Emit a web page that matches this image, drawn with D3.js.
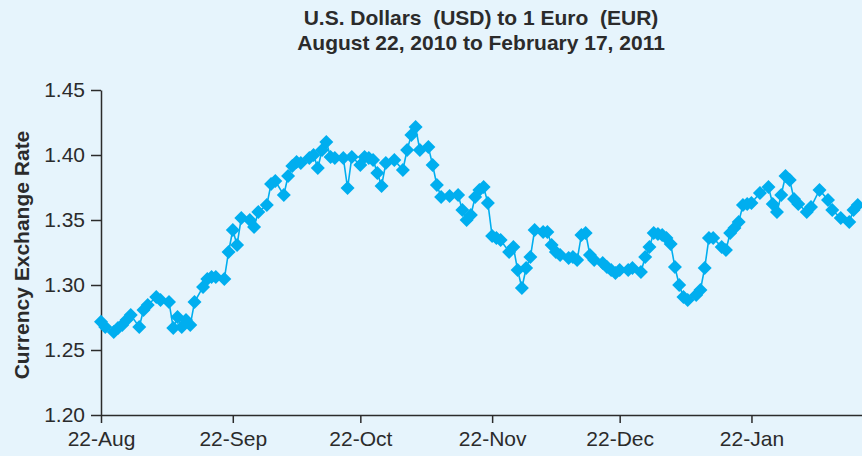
<!DOCTYPE html>
<html>
<head>
<meta charset="utf-8">
<script src="https://cdn.jsdelivr.net/npm/d3@7"></script>
<style>
  body { margin: 0; background: #e6f4fc; }
  svg { display: block; }
</style>
</head>
<body>
<script>
// USD per 1 EUR
var dates = [
  "2010-08-22","2010-08-23","2010-08-25","2010-08-26","2010-08-27","2010-08-28","2010-08-29","2010-08-31",
  "2010-09-01","2010-09-02","2010-09-04","2010-09-05","2010-09-07","2010-09-08","2010-09-09","2010-09-10",
  "2010-09-11","2010-09-12","2010-09-13","2010-09-15","2010-09-16","2010-09-17","2010-09-18","2010-09-20",
  "2010-09-21","2010-09-22","2010-09-23","2010-09-24","2010-09-26","2010-09-27","2010-09-28","2010-09-30",
  "2010-10-01","2010-10-02","2010-10-04","2010-10-05","2010-10-06","2010-10-07","2010-10-08","2010-10-10",
  "2010-10-11","2010-10-12","2010-10-13","2010-10-14","2010-10-15","2010-10-16","2010-10-18","2010-10-19",
  "2010-10-20","2010-10-22","2010-10-23","2010-10-24","2010-10-25","2010-10-26","2010-10-27","2010-10-28",
  "2010-10-30","2010-11-01","2010-11-02","2010-11-03","2010-11-04","2010-11-05","2010-11-07","2010-11-08",
  "2010-11-09","2010-11-10","2010-11-12","2010-11-14","2010-11-15","2010-11-16","2010-11-17","2010-11-18",
  "2010-11-19","2010-11-20","2010-11-21","2010-11-22","2010-11-23","2010-11-24","2010-11-26","2010-11-27",
  "2010-11-28","2010-11-29","2010-11-30","2010-12-01","2010-12-02","2010-12-04","2010-12-05","2010-12-06",
  "2010-12-07","2010-12-08","2010-12-10","2010-12-11","2010-12-12","2010-12-13","2010-12-14","2010-12-15",
  "2010-12-16","2010-12-18","2010-12-19","2010-12-20","2010-12-21","2010-12-22","2010-12-24","2010-12-25",
  "2010-12-27","2010-12-28","2010-12-29","2010-12-30","2010-12-31","2011-01-01","2011-01-02","2011-01-03",
  "2011-01-04","2011-01-05","2011-01-06","2011-01-07","2011-01-09","2011-01-10","2011-01-11","2011-01-12",
  "2011-01-13","2011-01-15","2011-01-16","2011-01-17","2011-01-18","2011-01-19","2011-01-20","2011-01-21",
  "2011-01-22","2011-01-24","2011-01-26","2011-01-27","2011-01-28","2011-01-29","2011-01-30","2011-01-31",
  "2011-02-01","2011-02-02","2011-02-04","2011-02-05","2011-02-07","2011-02-09","2011-02-10","2011-02-12",
  "2011-02-14","2011-02-15","2011-02-16"
];
var rates = [
  1.2718,1.2677,1.2638,1.2669,1.2692,1.2731,1.2769,1.2677,
  1.2808,1.2846,1.2908,1.2885,1.2869,1.2669,1.2754,1.2677,
  1.2731,1.2692,1.2869,1.2985,1.3046,1.3062,1.3062,1.3046,
  1.3254,1.3423,1.3308,1.3515,1.3500,1.3446,1.3562,1.3615,
  1.3777,1.3800,1.3692,1.3838,1.3915,1.3946,1.3938,1.3977,
  1.4000,1.3900,1.4038,1.4100,1.3985,1.3977,1.3977,1.3746,
  1.3985,1.3923,1.3985,1.3977,1.3962,1.3862,1.3762,1.3938,
  1.3962,1.3885,1.4038,1.4154,1.4215,1.4038,1.4062,1.3923,
  1.3769,1.3677,1.3685,1.3692,1.3577,1.3500,1.3538,1.3677,
  1.3731,1.3754,1.3631,1.3377,1.3362,1.3346,1.3254,1.3292,
  1.3115,1.2977,1.3131,1.3215,1.3423,1.3408,1.3408,1.3308,
  1.3254,1.3231,1.3208,1.3215,1.3192,1.3385,1.3400,1.3231,
  1.3192,1.3169,1.3138,1.3115,1.3092,1.3115,1.3115,1.3131,
  1.3100,1.3215,1.3292,1.3400,1.3392,1.3385,1.3362,1.3315,
  1.3138,1.3000,1.2908,1.2885,1.2923,1.2962,1.3131,1.3362,
  1.3362,1.3292,1.3269,1.3400,1.3438,1.3485,1.3615,1.3623,
  1.3631,1.3708,1.3754,1.3623,1.3562,1.3692,1.3838,1.3808,
  1.3662,1.3623,1.3562,1.3600,1.3731,1.3654,1.3577,1.3515,
  1.3485,1.3577,1.3615
];
var xTicks = ["2010-08-22","2010-09-22","2010-10-22","2010-11-22","2010-12-22","2011-01-22"];
var yTicks = [1.20, 1.25, 1.30, 1.35, 1.40, 1.45];
var titleLines = ["U.S. Dollars  (USD) to 1 Euro  (EUR)", "August 22, 2010 to February 17, 2011"];

var parse = d3.timeParse("%Y-%m-%d");
var data = dates.map(function(d, i) { return { date: parse(d), rate: rates[i] }; });

var W = 862, H = 456;
var font = "'Liberation Sans', Arial, Helvetica, sans-serif";
var ink = "#2b2b2b";
var blue = "#00aeef";

var svg = d3.select("body").append("svg")
  .attr("width", W).attr("height", H);

svg.append("rect").attr("width", W).attr("height", H).attr("fill", "#e6f4fc");

var x = d3.scaleTime()
  .domain([parse("2010-08-22"), parse("2011-02-17")])
  .range([101, 862]);

var y = d3.scaleLinear()
  .domain([1.20, 1.45])
  .range([415, 90]);

// title
svg.append("g").selectAll("text")
  .data(titleLines)
  .join("text")
  .attr("x", 481)
  .attr("y", function(d, i) { return 25 + i * 25; })
  .attr("text-anchor", "middle")
  .attr("font-family", font)
  .attr("font-weight", "bold")
  .attr("font-size", 21)
  .attr("fill", ink)
  .style("white-space", "pre")
  .text(function(d) { return d; });

// axes
var xAxis = svg.append("g")
  .attr("transform", "translate(0,415)")
  .call(d3.axisBottom(x)
    .tickValues(xTicks.map(parse))
    .tickFormat(d3.timeFormat("%d-%b"))
    .tickSize(8).tickSizeOuter(0).tickPadding(8));

var yAxis = svg.append("g")
  .attr("transform", "translate(101,0)")
  .call(d3.axisLeft(y)
    .tickValues(yTicks)
    .tickFormat(d3.format(".2f"))
    .tickSize(10).tickSizeOuter(0).tickPadding(6));

[xAxis, yAxis].forEach(function(g) {
  g.select(".domain").attr("stroke", ink).attr("stroke-width", 1.5);
  g.selectAll(".tick line").attr("stroke", ink).attr("stroke-width", 1.5);
  g.selectAll(".tick text")
    .attr("fill", ink)
    .attr("font-family", font)
    .attr("font-size", 21);
});

svg.append("text")
  .attr("transform", "translate(29,255) rotate(-90)")
  .attr("text-anchor", "middle")
  .attr("font-family", font)
  .attr("font-weight", "bold")
  .attr("font-size", 21)
  .attr("fill", ink)
  .text("Currency Exchange Rate");

// line + diamonds
svg.append("path")
  .datum(data)
  .attr("fill", "none")
  .attr("stroke", blue)
  .attr("stroke-width", 1.6)
  .attr("d", d3.line()
    .x(function(d) { return x(d.date); })
    .y(function(d) { return y(d.rate); }));

var diamond = d3.symbol().type(d3.symbolSquare).size(98);

svg.append("g").selectAll("path")
  .data(data)
  .join("path")
  .attr("transform", function(d) {
    return "translate(" + x(d.date) + "," + y(d.rate) + ") rotate(45)";
  })
  .attr("d", diamond)
  .attr("fill", blue);
</script>
</body>
</html>
